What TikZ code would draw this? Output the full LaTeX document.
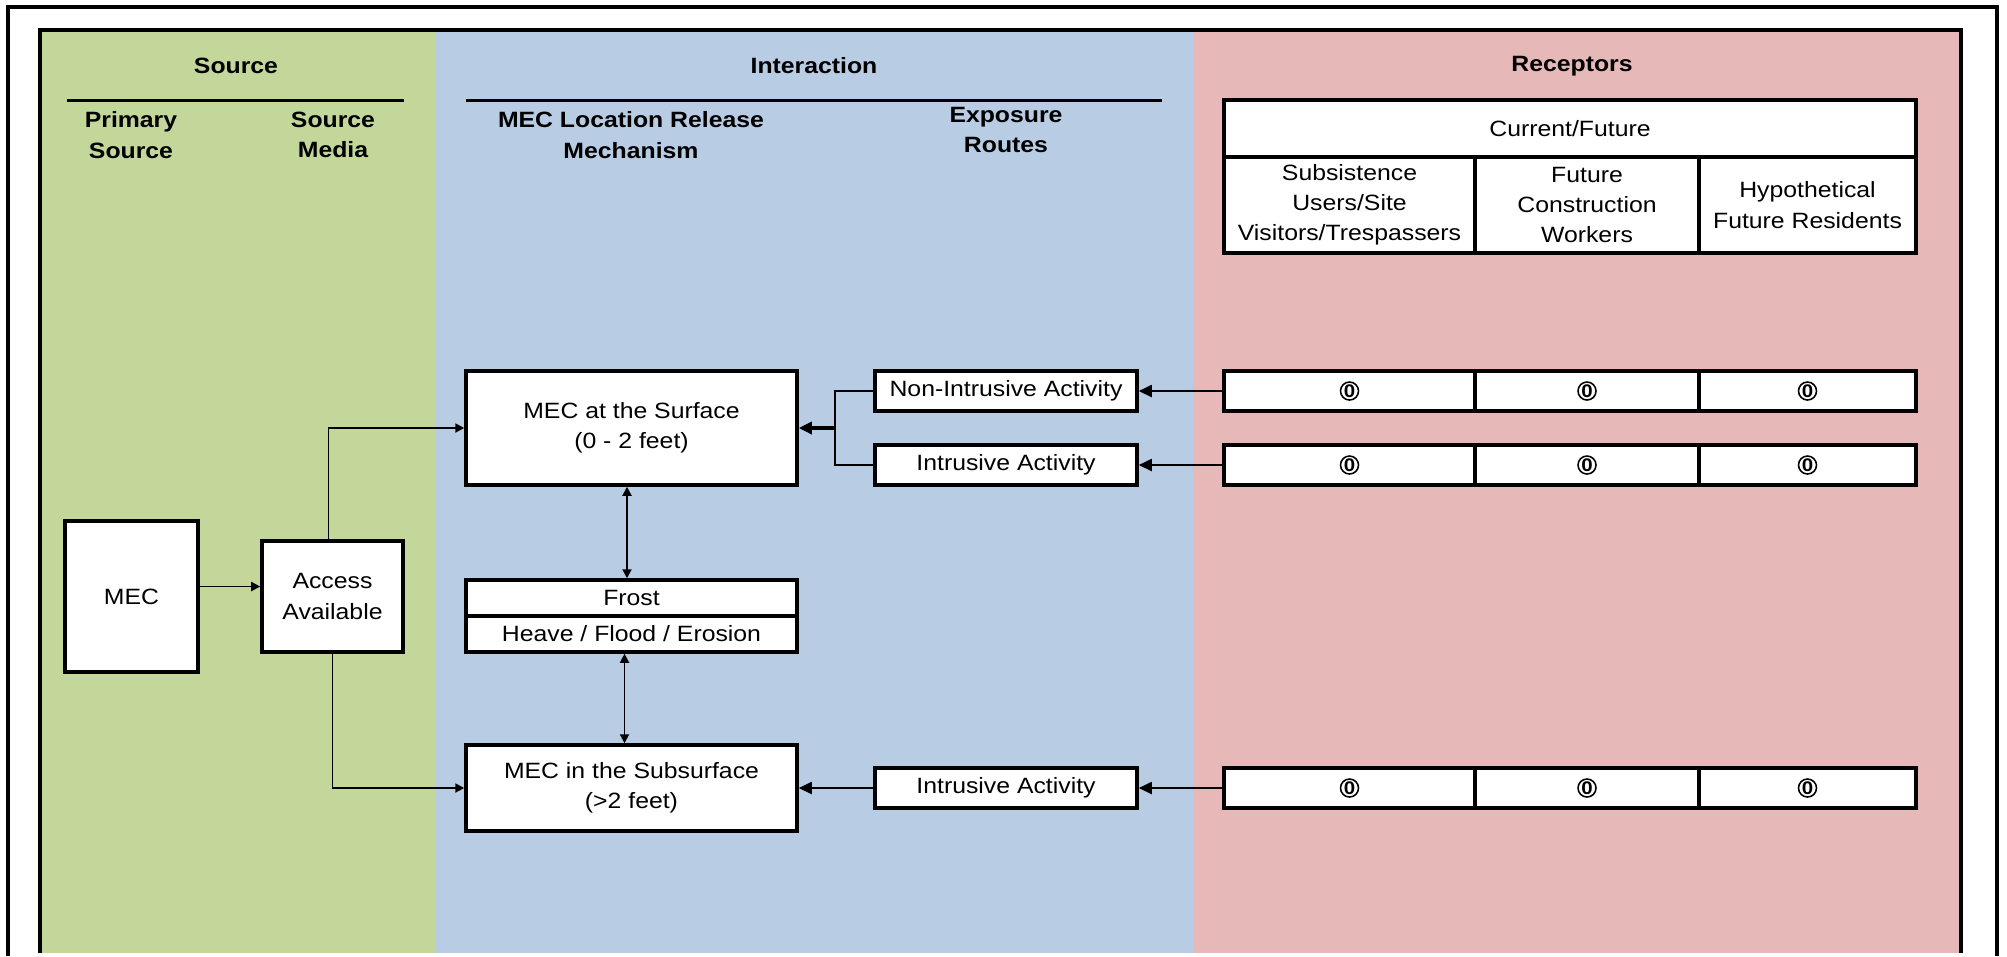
\documentclass[tikz,border=0pt]{standalone}
\usepackage{fontspec}
\setmainfont{Liberation Sans}[FakeStretch=1.12]
\usetikzlibrary{arrows.meta,positioning,calc}
\definecolor{srcgreen}{HTML}{C4D79B}
\definecolor{intblue}{HTML}{B8CCE4}
\definecolor{recred}{HTML}{E6B8B7}

\begin{document}
\begin{tikzpicture} [x=0.1mm,y=-0.1mm,{box/.style={rectangle,draw=black,fill=white,line width=1pt,inner sep=0pt,align=center,font=\fontsize{6.3}{8.6}\selectfont}},{head/.style={align=center,font=\fontsize{6.3}{8.6}\selectfont\bfseries}},{conn/.style={-{Triangle[length=0.9mm,width=0.9mm]},line width=0.55pt}},{dconn/.style={{Triangle[length=0.9mm,width=0.9mm]}-{Triangle[length=0.9mm,width=0.9mm]},line width=0.55pt}},{bigconn/.style={-{Triangle[length=1.3mm,width=1.2mm]},line width=0.55pt}},{zero/.style={circle,draw,line width=0.45pt,inner sep=0pt,minimum size=1.8mm,font=\fontsize{5.2}{6}\selectfont\bfseries}}]
	\useasboundingbox (0,0) rectangle (2007,956);
	%%panels
	\fill [srcgreen] (40,30) rectangle (435,953);
	\fill [intblue] (435,30) rectangle (1193,953);
	\fill [recred] (1193,30) rectangle (1961,953);
	\draw [line width=1.1pt] (40,953) -- (40,30) -- (1961,30) -- (1961,953);
	\draw [line width=1.2pt] (8,956) -- (8,7) -- (1997,7) -- (1997,956);

	%%headers
	\node [head] (src) at (236,66) {Source};
	\node [head] (inter) at (814,66) {Interaction};
	\node [head] (rcp) at (1572,66) {Receptors};
	\draw [line width=0.85pt] (67,100) -- (404,100);
	\draw [line width=0.85pt] (466,100) -- (1162,100);
	\node [head] (prim) at (131,135) {Primary\\Source};
	\node [head] (media) at (333,135) {Source\\Media};
	\node [head] (mech) at (631,135) {MEC Location Release\\Mechanism};
	\node [head] (expo) at (1006,130) {Exposure\\Routes};

	%%receptor table
	\node [box,minimum width=69.2mm,minimum height=5.7mm] (cur) at (1570,128.5) {Current/Future};
	\node [box,minimum width=25.1mm,minimum height=9.6mm] (subsist) at (1349.5,205) {Subsistence\\Users/Site\\Visitors/Trespassers};
	\node [box,minimum width=22.4mm,minimum height=9.6mm] (constr) at (1587,205) {Future\\Construction\\Workers};
	\node [box,minimum width=21.7mm,minimum height=9.6mm] (resid) at (1807.5,205) {Hypothetical\\Future Residents};

	%%source
	\node [box,minimum width=13.3mm,minimum height=15.1mm] (mec) at (131.5,596.5) {MEC};
	\node [box,minimum width=14.1mm,minimum height=11.1mm] (access) at (332.5,596.5) {Access\\Available};

	%%release mechanism
	\node [box,minimum width=33.1mm,minimum height=11.4mm] (surf) at (631.5,428) {MEC at the Surface\\(0 - 2 feet)};
	\node [box,minimum width=33.1mm,minimum height=3.6mm] (frost) at (631.5,598) {Frost};
	\node [box,minimum width=33.1mm,minimum height=3.6mm] (heave) at (631.5,634) {Heave / Flood / Erosion};
	\node [box,minimum width=33.1mm,minimum height=8.6mm] (subs) at (631.5,788) {MEC in the Subsurface\\(>2 feet)};

	%%exposure routes
	\node [box,minimum width=26.2mm,minimum height=4mm] (nonint) at (1006,391) {Non-Intrusive Activity};
	\node [box,minimum width=26.2mm,minimum height=4mm] (intr) at (1006,465) {Intrusive Activity};
	\node [box,minimum width=26.2mm,minimum height=4mm] (intrsub) at (1006,788) {Intrusive Activity};

	%%receptor rows
	\foreach \r/\y in {1/391,2/465,3/788}{
		\node [box,minimum width=25.1mm,minimum height=4mm] (rcpA\r) at (1349.5,\y) {};
		\node [box,minimum width=22.4mm,minimum height=4mm] (rcpB\r) at (1587,\y) {};
		\node [box,minimum width=21.7mm,minimum height=4mm] (rcpC\r) at (1807.5,\y) {};
		\node [zero] (zA\r) at (rcpA\r) {0};
		\node [zero] (zB\r) at (rcpB\r) {0};
		\node [zero] (zC\r) at (rcpC\r) {0};
	}

	%%connectors
	\draw [conn] ([yshift=1mm]mec.east) -- ([yshift=1mm]access.west);
	\draw [conn] ([xshift=-0.4mm]access.north) |- (surf.west);
	\draw [conn] (access.south) |- (subs.west);
	\draw [dconn] ([xshift=-0.45mm]surf.south) -- ([xshift=-0.45mm]frost.north);
	\draw [dconn] ([xshift=-0.7mm]heave.south) -- ([xshift=-0.7mm]subs.north);
	\coordinate (join) at (835,428);
	\draw [line width=0.55pt] (nonint.west) -| (join) |- (intr.west);
	\draw [bigconn,line width=1.1pt] (join) -- (surf.east);
	\draw [bigconn] (rcpA1.west) -- (nonint.east);
	\draw [bigconn] (rcpA2.west) -- (intr.east);
	\draw [bigconn] (rcpA3.west) -- (intrsub.east);
	\draw [bigconn] (intrsub.west) -- (subs.east);
	\end{tikzpicture}
\end{document}
